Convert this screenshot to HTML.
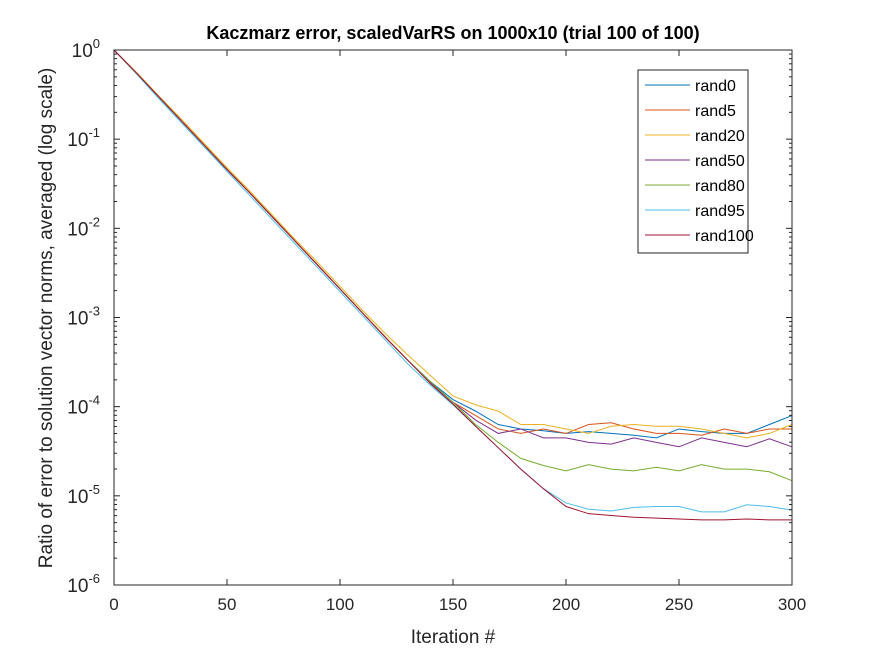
<!DOCTYPE html>
<html><head><meta charset="utf-8"><style>
body{margin:0;background:#fff;}
svg{display:block;font-family:"Liberation Sans",Arial,sans-serif;}
</style></head><body>
<svg id="chart" width="875" height="656">
<rect width="875" height="656" fill="#fff"/>
<g id="plot"></g>
</svg>
<script>
const iterations=[0,10,20,30,40,50,60,70,80,90,100,110,120,130,140,150,160,170,180,190,200,210,220,230,240,250,260,270,280,290,300];
const seriesNames=["rand0","rand5","rand20","rand50","rand80","rand95","rand100"];
const seriesColors=["#0072BD","#D95319","#EDB120","#7E2F8E","#77AC30","#4DBEEE","#A2142F"];
const base=[0,-0.26,-0.53,-0.8,-1.07,-1.34,-1.6,-1.87,-2.14,-2.41,-2.68,-2.95,-3.22,-3.48];
const rand0=base.concat([-3.72,-3.92,-4.05,-4.2,-4.25,-4.27,-4.3,-4.28,-4.3,-4.32,-4.35,-4.25,-4.28,-4.3,-4.3,-4.2,-4.1]);
const rand5=base.concat([-3.73,-3.95,-4.1,-4.25,-4.3,-4.25,-4.3,-4.2,-4.18,-4.25,-4.3,-4.3,-4.32,-4.25,-4.3,-4.25,-4.25]);
const rand20=[0,-0.25,-0.52,-0.78,-1.05,-1.32,-1.58,-1.85,-2.12,-2.38,-2.65,-2.92,-3.18,-3.42,-3.65,-3.88,-3.98,-4.05,-4.2,-4.2,-4.25,-4.3,-4.22,-4.2,-4.22,-4.22,-4.25,-4.3,-4.35,-4.3,-4.2];
const rand50=base.concat([-3.73,-3.95,-4.15,-4.3,-4.25,-4.35,-4.35,-4.4,-4.42,-4.35,-4.4,-4.45,-4.35,-4.4,-4.45,-4.36,-4.45]);
const rand80=base.concat([-3.72,-3.95,-4.2,-4.4,-4.58,-4.66,-4.72,-4.65,-4.7,-4.72,-4.68,-4.72,-4.65,-4.7,-4.7,-4.73,-4.83]);
const rand95=[0,-0.27,-0.55,-0.82,-1.09,-1.36,-1.63,-1.9,-2.17,-2.44,-2.71,-2.98,-3.25,-3.52,-3.76,-3.98,-4.22,-4.46,-4.7,-4.92,-5.08,-5.15,-5.17,-5.13,-5.12,-5.12,-5.18,-5.18,-5.1,-5.12,-5.16];
const rand100=base.concat([-3.74,-3.97,-4.22,-4.46,-4.7,-4.92,-5.12,-5.2,-5.22,-5.24,-5.25,-5.26,-5.27,-5.27,-5.26,-5.27,-5.27]);
const allSeries=[rand0,rand5,rand20,rand50,rand80,rand95,rand100];
const xTicks=[0,50,100,150,200,250,300];
const yTicks=[0,-1,-2,-3,-4,-5,-6];

const L=114,R=792,T=50,B=585;
const xs=v=>L+(v-0)/(300-0)*(R-L);
const ys=lv=>T+(0-lv)/6*(B-T);
const NS="http://www.w3.org/2000/svg";
const g=document.getElementById('plot');
function mk(tag,attrs,parent){const e=document.createElementNS(NS,tag);for(const k in attrs)e.setAttribute(k,attrs[k]);(parent||g).appendChild(e);return e;}

// series
allSeries.forEach((s,i)=>{
  const p=mk('polyline',{points:s.map((v,j)=>xs(iterations[j])+','+ys(v)).join(' '),fill:'none',stroke:seriesColors[i],'stroke-width':1});
  
  
});

// axes box
const box=mk('rect',{x:L,y:T,width:R-L,height:B-T,fill:'none',stroke:'#262626','stroke-width':1});



// x ticks
xTicks.forEach(t=>{
  const x=xs(t);
  mk('line',{x1:x,x2:x,y1:B,y2:B-6,stroke:'#262626'});
  mk('line',{x1:x,x2:x,y1:T,y2:T+6,stroke:'#262626'});
  const tx=mk('text',{x:x,y:B+25,'font-size':17,'text-anchor':'middle',fill:'#262626'});
  tx.textContent=t;
  
  
});
// y ticks
yTicks.forEach(t=>{
  const y=ys(t);
  mk('line',{x1:L,x2:L+6,y1:y,y2:y,stroke:'#262626'});
  mk('line',{x1:R,x2:R-6,y1:y,y2:y,stroke:'#262626'});
  if(t>-6){for(let m=2;m<10;m++){const yy=ys(t-1+Math.log10(m));
    mk('line',{x1:L,x2:L+3,y1:yy,y2:yy,stroke:'#262626'});
    mk('line',{x1:R,x2:R-3,y1:yy,y2:yy,stroke:'#262626'});}}
  const tx=mk('text',{x:L-14,y:y+7,'font-size':19,'text-anchor':'end',fill:'#262626'});
  tx.innerHTML='10<tspan dy="-9" font-size="13">'+t+'</tspan>';
  
  
});

// legend
const lg=mk('g',{});


mk('rect',{x:638,y:70,width:110,height:183,fill:'#fff',stroke:'#262626'},lg);
seriesNames.forEach((n,i)=>{
  const y=85+i*25;
  const e=mk('g',{},lg);
  
  
  mk('line',{x1:645,x2:690,y1:y,y2:y,stroke:seriesColors[i]},e);
  const t=mk('text',{x:695,y:y+6,'font-size':16,fill:'#000'},e);
  t.textContent=n;
});
</script>
<svg style="position:absolute;left:0;top:0" width="875" height="656">
<text x="453" y="39" font-size="18" font-weight="bold" text-anchor="middle" font-family="Liberation Sans, sans-serif">Kaczmarz error, scaledVarRS on 1000x10 (trial 100 of 100)</text>
<text x="453" y="643" font-size="19" text-anchor="middle" fill="#262626" font-family="Liberation Sans, sans-serif">Iteration #</text>
<text transform="translate(52,318) rotate(-90)" font-size="19" text-anchor="middle" fill="#262626" font-family="Liberation Sans, sans-serif">Ratio of error to solution vector norms, averaged (log scale)</text>
</svg>
</body></html>
